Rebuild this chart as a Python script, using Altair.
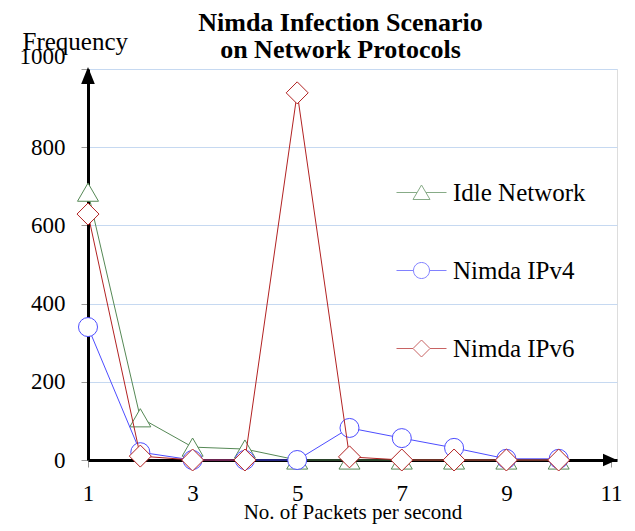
import altair as alt
import pandas as pd

# ---- data ----
x_values = [1, 2, 3, 4, 5, 6, 7, 8, 9, 10]
idle_network = [685, 108, 33, 28, 0, 0, 0, 0, 0, 0]
nimda_ipv4 = [340, 20, 0, 0, 0, 82, 56, 31, 3, 3]
nimda_ipv6 = [629, 10, 0, 0, 939, 8, 0, 0, 0, 0]

series_names = ["Idle Network", "Nimda IPv4", "Nimda IPv6"]
series_colors = ["#558855", "#4d4dff", "#b22222"]
series_shapes = ["triangle-up", "circle", "diamond"]
series_sizes = [441, 361, 484]

x_ticks = [1, 3, 5, 7, 9, 11]
y_ticks = [0, 200, 400, 600, 800, 1000]

rows = []
for name, vals in zip(series_names, [idle_network, nimda_ipv4, nimda_ipv6]):
    for x, v in zip(x_values, vals):
        rows.append({"series": name, "x": x, "freq": v})
df = pd.DataFrame(rows)

FONT = "Liberation Serif"
W, H = 529, 391
GRID = "#c6d9f1"

x_scale = alt.Scale(domain=[1, 11.115], nice=False, zero=False)
y_scale = alt.Scale(domain=[0, 1000], nice=False)

x_axis = alt.Axis(
    values=x_ticks, title="No. of Packets per second", grid=False, format="d",
    domainColor="black", domainWidth=3, tickColor="#999999", tickSize=7,
    labelFont=FONT, labelFontSize=23, labelColor="black", labelAngle=0,
    labelBaseline="alphabetic", labelPadding=33, labelFlush=False,
    titleFont=FONT, titleFontSize=21, titleFontWeight="normal", titleColor="black",
    titleBaseline="alphabetic", titleY=58,
)
y_axis = alt.Axis(
    values=y_ticks, title="Frequency", titleAngle=0, titleAlign="left", format="d",
    titleBaseline="alphabetic", titleX=-66, titleY=-20,
    titleFont=FONT, titleFontSize=25, titleFontWeight="normal", titleColor="black",
    grid=True, gridColor=GRID, gridWidth=1,
    domainColor="black", domainWidth=3, tickColor="#999999", tickSize=7,
    labelFont=FONT, labelFontSize=23, labelColor="black", labelPadding=16,
    labelOffset={"condition": {"test": "datum.value == 1000", "value": -13}, "value": 0},
)

X = alt.X("x:Q", scale=x_scale, axis=x_axis)
Y = alt.Y("freq:Q", scale=y_scale, axis=y_axis)

layers = []
for name, col, shp, sz in zip(series_names, series_colors, series_shapes, series_sizes):
    base = alt.Chart(df).transform_filter(alt.datum.series == name)
    layers.append(base.mark_line(color=col, strokeWidth=1).encode(x=X, y=Y))
    layers.append(
        base.mark_point(shape=shp, size=sz, filled=False, fill="white", fillOpacity=1,
                        color=col, strokeWidth=1, opacity=1).encode(x=X, y=Y)
    )

# legend symbols: line segment through the marker
legend_paths = [
    "M-1,0H-0.18M0.18,0H1M0,-0.3L0.34,0.28L-0.34,0.28Z",
    "M-1,0H-0.32M0.32,0H1M0.32,0A0.32,0.32,0,1,1,-0.32,0A0.32,0.32,0,1,1,0.32,0Z",
    "M-1,0H-0.34M0.34,0H1M0,-0.34L0.34,0L0,0.34L-0.34,0Z",
]
leg = alt.Legend(
    title=None, orient="none", legendX=308, legendY=98, padding=0,
    labelFont=FONT, labelFontSize=25, labelColor="black", labelOffset=6,
    symbolSize=2500, symbolStrokeWidth=1, rowPadding=39,
)
legend_layer = alt.Chart(df).transform_filter("datum.x > 100").mark_point(
    filled=False, size=2500, strokeWidth=1
).encode(
    x=X, y=Y,
    color=alt.Color("series:N", scale=alt.Scale(domain=series_names, range=series_colors), legend=leg),
    shape=alt.Shape("series:N", scale=alt.Scale(domain=series_names, range=legend_paths), legend=leg),
)
layers.append(legend_layer)

# axis arrow heads
one = pd.DataFrame({"a": [0]})
y_arrow = alt.Chart(one).mark_point(
    shape="M0,-1L0.8,1L-0.8,1Z", filled=True, color="black", size=289, opacity=1
).encode(x=alt.value(0), y=alt.value(6.5))
x_arrow = alt.Chart(one).mark_point(
    shape="M1,0L-1,0.9L-1,-0.9Z", filled=True, color="black", size=196, opacity=1
).encode(x=alt.value(W - 7), y=alt.value(H))
layers += [y_arrow, x_arrow]

chart = alt.layer(*layers).properties(
    width=W, height=H,
    autosize=alt.AutoSizeParams(type="none"),
    padding={"left": 80, "top": 61, "right": 10, "bottom": 66},
    title=alt.Title(
        text=["Nimda Infection Scenario", "on Network Protocols"],
        font=FONT, fontSize=26, fontWeight="bold", color="black",
        anchor="middle", frame="group", offset=6, lineHeight=27, dx=-12, dy=40,
    ),
).configure_view(stroke=GRID, strokeWidth=1).configure(background="white", font=FONT)

chart.save("out.html", embed_options={"renderer": "svg", "actions": False})
